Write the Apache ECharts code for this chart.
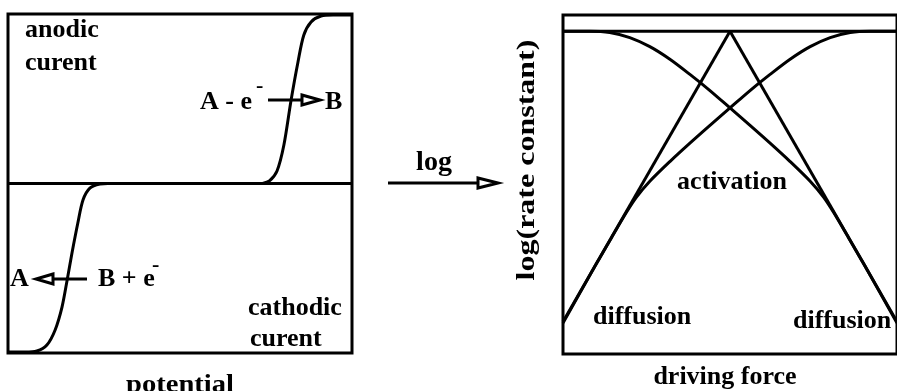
<!DOCTYPE html>
<html>
<head>
    <meta charset="utf-8">
    <title>Current and rate constant</title>
    <script src="https://cdn.jsdelivr.net/npm/echarts@6/dist/echarts.min.js"></script>
    <style>
        html, body { margin: 0; padding: 0; background: #fff; }
        #main { width: 897px; height: 391px; }
    </style>
</head>
<body>
    <div id="main"></div>
    <script type="text/javascript">
        // left panel: current vs potential (x 0..100, y -100..100)
        var zeroLine = [[0, 0], [100, 0]];
        var anodic = [[74, 0], [76, 1.5], [78.2, 7.4], [80.2, 22.7], [82.3, 49.3], [84.3, 71.7],
            [86, 87.6], [88.1, 95.3], [91, 98.8], [94.5, 99.4], [100, 99.4]];
        var cathodic = [[0, -99.4], [5, -99.4], [8.4, -98.8], [11.3, -95.3], [13.7, -86.4], [15.7, -72.9],
            [17.2, -56.9], [18.6, -41], [20.3, -23.3], [21.8, -9.7], [23.8, -2.7], [26.7, -0.3], [29, 0]];

        // right panel: log(rate constant) vs driving force (x 0..100, y 0..105)
        var activationUp = [[0, 10], [50, 100]];
        var activationDown = [[50, 100], [100, 10]];
        var diffusionLimit = [[0, 100], [100, 100]];
        var rateRising = [[0, 9.6], [10, 28], [15, 36.9], [19, 43.9], [22, 48.6], [26, 53.5], [32, 59.6],
            [38, 65.3], [44, 70.8], [50, 76.2], [56, 81.6], [62, 86.6], [68, 91.3], [74, 95.2],
            [80, 98], [86, 99.6], [92, 100], [100, 100]];
        var rateFalling = [[0, 100], [8, 100], [14, 99.6], [20, 98], [26, 95.2], [32, 91.3], [38, 86.6],
            [44, 81.6], [50, 76.2], [56, 70.8], [62, 65.3], [68, 59.6], [74, 53.5], [78, 48.6],
            [81, 43.9], [85, 36.9], [90, 28], [100, 9.6]];

        var FAMILY = '"Liberation Serif", "Times New Roman", serif';
        var FONT = 'bold 26px ' + FAMILY;
        var SUP = 'bold 22px ' + FAMILY;

        var myChart = echarts.init(document.getElementById('main'));

        function curve(data, grid, smooth) {
            return {
                type: 'line',
                xAxisIndex: grid,
                yAxisIndex: grid,
                data: data,
                symbol: 'none',
                smooth: smooth,
                silent: true,
                lineStyle: { color: '#000', width: 3 }
            };
        }

        function label(text, x, y, opts) {
            opts = opts || {};
            return {
                type: 'text',
                x: x,
                y: y,
                rotation: opts.rotation || 0,
                scaleX: opts.scaleX || 1,
                silent: true,
                style: {
                    text: text,
                    font: opts.font || FONT,
                    fill: '#000',
                    textAlign: opts.align || 'left',
                    align: opts.align || 'left',
                    textVerticalAlign: 'middle',
                    verticalAlign: 'middle'
                }
            };
        }

        function arrow(x1, x2, y, headLen, pointsRight) {
            var tip = pointsRight ? x2 : x1;
            var base = pointsRight ? x2 - headLen : x1 + headLen;
            return [
                {
                    type: 'line', silent: true,
                    shape: pointsRight ? { x1: x1, y1: y, x2: base, y2: y } : { x1: base, y1: y, x2: x2, y2: y },
                    style: { stroke: '#000', lineWidth: 3 }
                },
                {
                    type: 'polygon', silent: true,
                    shape: { points: [[base, y - 5], [tip, y], [base, y + 5]] },
                    style: { fill: '#fff', stroke: '#000', lineWidth: 3, lineJoin: 'miter' }
                }
            ];
        }

        var option = {
            animation: false,
            backgroundColor: '#fff',
            grid: [
                { left: 8, top: 14, width: 344, height: 339, show: true, borderColor: '#000', borderWidth: 3, backgroundColor: 'transparent' },
                { left: 563, top: 15, width: 340, height: 339, show: true, borderColor: '#000', borderWidth: 3, backgroundColor: 'transparent' }
            ],
            xAxis: [
                { type: 'value', gridIndex: 0, min: 0, max: 100, show: false },
                { type: 'value', gridIndex: 1, min: 0, max: 100, show: false }
            ],
            yAxis: [
                { type: 'value', gridIndex: 0, min: -100, max: 100, show: false },
                { type: 'value', gridIndex: 1, min: 0, max: 105, show: false }
            ],
            series: [
                curve(zeroLine, 0, false),
                curve(anodic, 0, 0.3),
                curve(cathodic, 0, 0.3),
                curve(diffusionLimit, 1, false),
                curve(activationUp, 1, false),
                curve(activationDown, 1, false),
                curve(rateRising, 1, 0.3),
                curve(rateFalling, 1, 0.3)
            ],
            graphic: [
                label('anodic', 25, 30),
                label('curent', 25, 63),
                label('A - e', 200, 102),
                label('-', 256, 86, { font: SUP }),
                label('B', 325, 102),
                label('A', 10, 279),
                label('B + e', 98, 279),
                label('-', 152, 265, { font: SUP }),
                label('cathodic', 248, 308),
                label('curent', 250, 339),
                label('potential', 180, 385, { align: 'center', scaleX: 1.1 }),
                label('log', 434, 163, { align: 'center', font: 'bold 28px ' + FAMILY }),
                label('activation', 732, 182, { align: 'center' }),
                label('diffusion', 593, 317),
                label('diffusion', 793, 321),
                label('driving force', 725, 377, { align: 'center' }),
                label('log(rate constant)', 528, 160, { align: 'center', rotation: Math.PI / 2, scaleX: 1.28, font: 'bold 25px ' + FAMILY })
            ].concat(arrow(268, 320, 100, 18, true))
             .concat(arrow(36, 87, 279, 17, false))
             .concat(arrow(388, 498, 183, 20, true))
        };

        myChart.setOption(option);
    </script>
</body>
</html>
